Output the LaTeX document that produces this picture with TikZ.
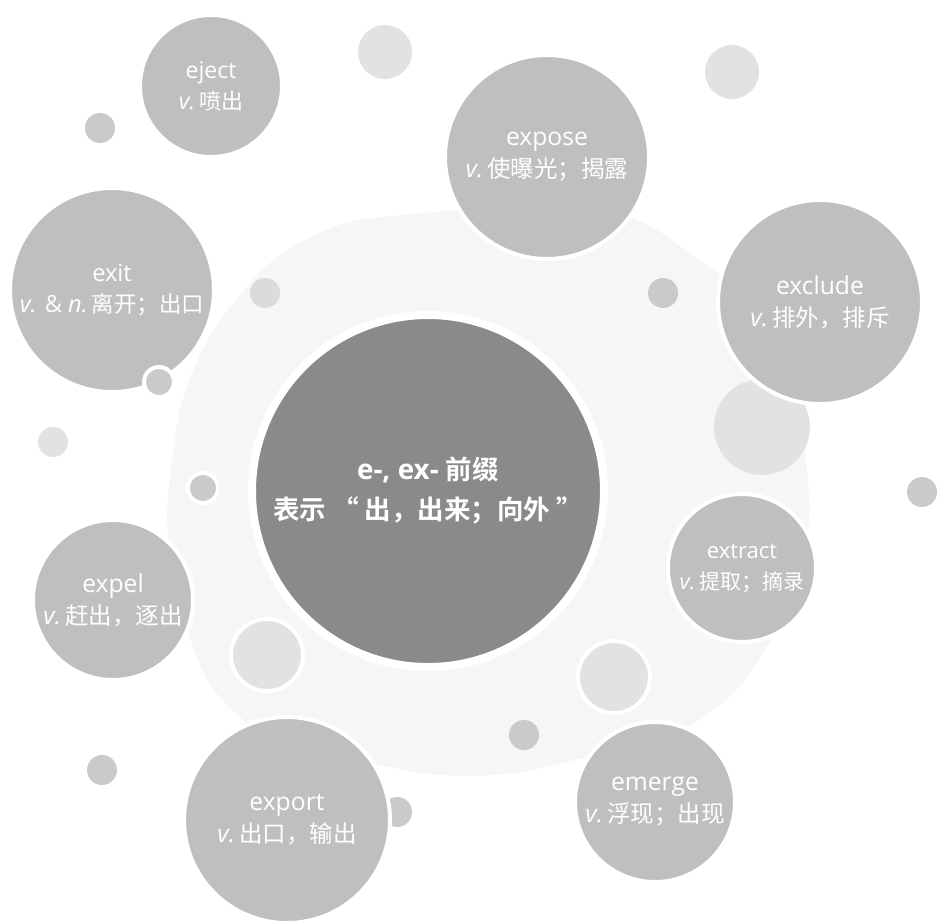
\documentclass[tikz,border=0pt]{standalone}
\usepackage{fontspec}
\setmainfont[Scale=1.05]{Open Sans}
\newfontfamily\cjk[BoldFont={Noto Sans CJK SC Bold}]{Noto Sans CJK SC}
\newcommand\zh[1]{{\cjk #1}}
\newcommand\pos[1]{\textit{#1}\hspace{4pt}}
\definecolor{midgray}{RGB}{191,191,191}
\definecolor{centergray}{RGB}{138,138,138}
\definecolor{faintgray}{RGB}{226,226,226}
\definecolor{smallgray}{RGB}{202,202,202}
\definecolor{bggray}{RGB}{246,246,246}
\begin{document}
\begin{tikzpicture}[x=1pt,y=-1pt,
  bub/.style={circle, inner sep=0pt, minimum size=#1, fill=midgray, draw=white, line width=4pt,
    text=white, align=center, font=\fontsize{23.5}{32}\selectfont},
  dot/.style={circle, inner sep=0pt, minimum size=#1, fill=smallgray},
  faintdot/.style={circle, inner sep=0pt, minimum size=#1, fill=faintgray},
  ringed/.style={draw=white, line width=4pt}]
\useasboundingbox (0,0) rectangle (937,922);
\fill[white] (0,0) rectangle (937,922);
% soft background
\fill[bggray, rounded corners=70pt] (300,225) -- (610,195) -- (795,330) -- (815,565) -- (720,725) -- (470,785) -- (225,730) -- (160,560) -- (185,360) -- cycle;
% faint circles
\node[faintdot=54] (f1) at (385,52) {};
\node[faintdot=54] (f2) at (732,72) {};
\node[faintdot=96] (f3) at (762,427) {};
\node[faintdot=72, ringed] (f4) at (267,655) {};
\node[faintdot=72, ringed] (f5) at (614,677) {};
% small dots behind
\node[dot=30] (d10) at (397,812) {};
\node[dot=30] (d1) at (100,128) {};
\node[dot=30, fill=faintgray!70!smallgray] (d2) at (265,293) {};
\node[dot=30] (d3) at (663,293) {};
\node[dot=30, fill=faintgray] (d5) at (53,442) {};
\node[dot=30] (d7) at (922,492) {};
\node[dot=30] (d8) at (102,770) {};
\node[dot=30] (d9) at (524,735) {};
% main bubbles
\node[bub=142, font=\fontsize{22}{31}\selectfont] (eject) at (211,86) {eject\\\pos{v.}\zh{喷出}};
\node[bub=204] (expose) at (547,157) {expose\\\pos{v.}\zh{使曝光；揭露}};
\node[bub=204, font=\fontsize{22.5}{31}\selectfont] (exit) at (112,290) {exit\\\textit{v.} \& \pos{n.}\zh{离开；出口}};
\node[bub=204] (exclude) at (820,302) {exclude\\\pos{v.}\zh{排外，排斥}};
\node[bub=148, font=\fontsize{21}{31}\selectfont] (extract) at (742,568) {extract\\\pos{v.}\zh{提取；摘录}};
\node[bub=160] (expel) at (113,600) {expel\\\pos{v.}\zh{赶出，逐出}};
\node[bub=206] (export) at (287,820) {export\\\pos{v.}\zh{出口，输出}};
\node[bub=160] (emerge) at (655,802) {emerge\\\pos{v.}\zh{浮现；出现}};
% small ringed dots on top
\node[dot=30, ringed] (d4) at (159,382) {};
\node[dot=30, ringed] (d6) at (203,488) {};
% centre
\node[circle, inner sep=0pt, minimum size=352, fill=centergray, draw=white, line width=8pt,
  text=white, align=center, font=\bfseries\fontsize{26.5}{40}\selectfont] (centre) at (428,491)
  {e-, ex- \zh{前缀}\\\zh{表示 “ 出，出来；向外 ”}};
\end{tikzpicture}
\end{document}
